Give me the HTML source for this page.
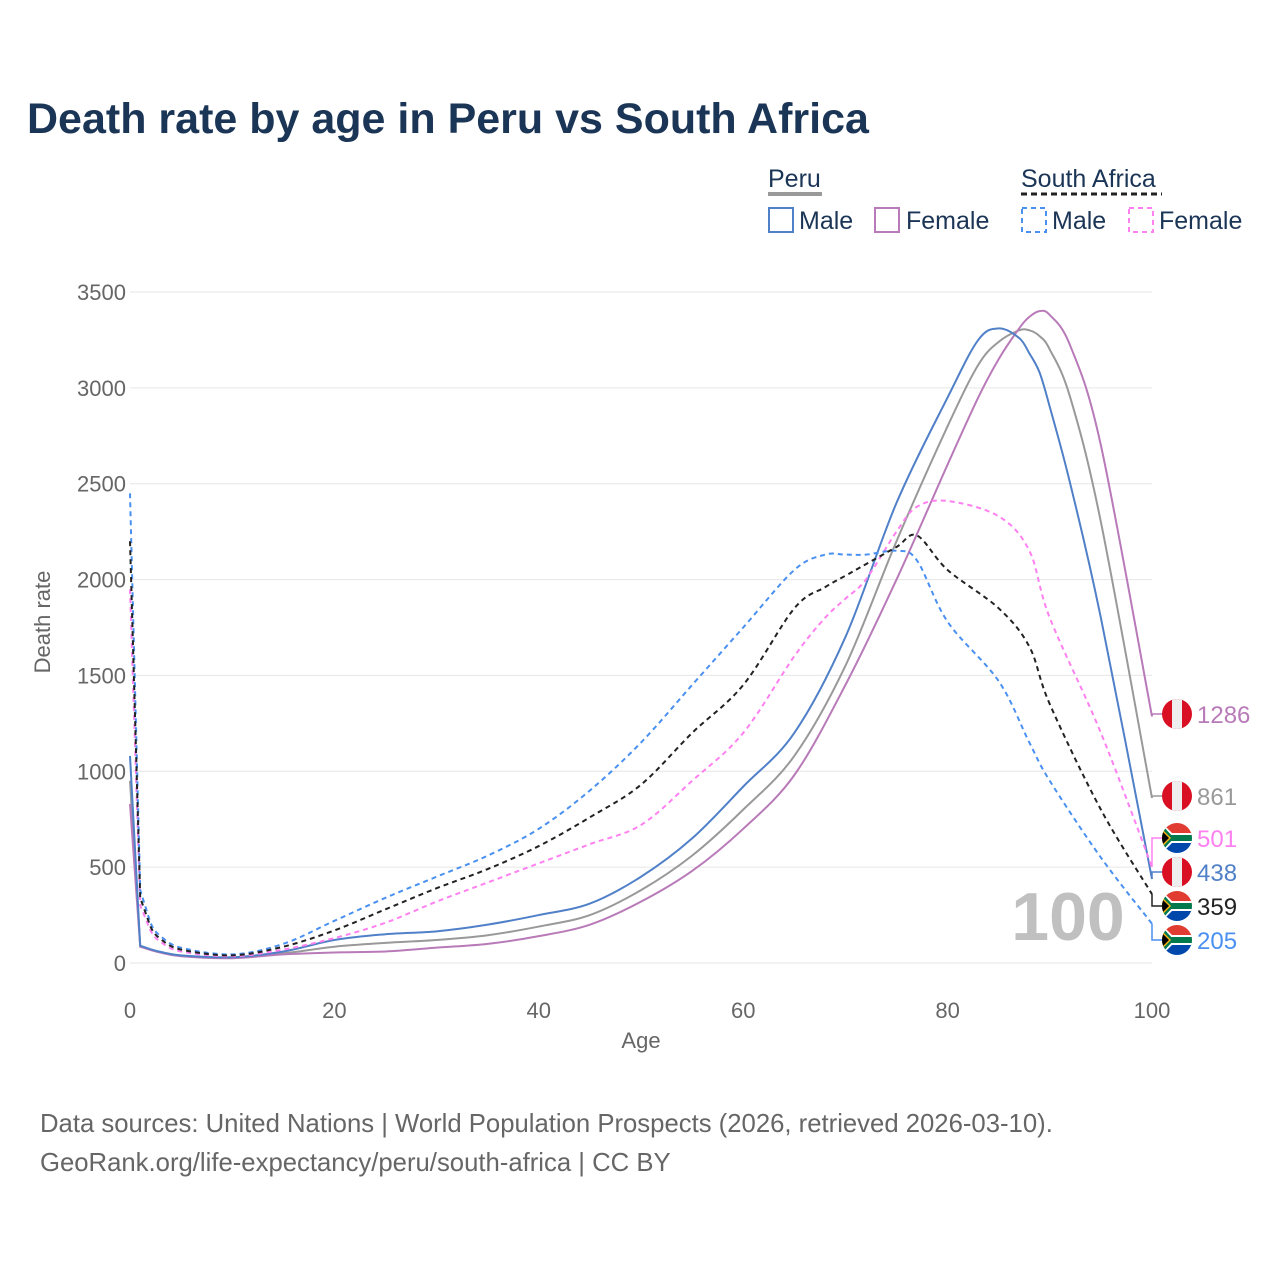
<!DOCTYPE html>
<html><head><meta charset="utf-8"><style>
body{margin:0;background:#fff;font-family:"Liberation Sans",sans-serif}
</style></head><body>
<svg id="c" width="1280" height="1280" xmlns="http://www.w3.org/2000/svg">
<text x="27" y="133" font-size="43" font-weight="bold" fill="#1b3556">Death rate by age in Peru vs South Africa</text>
<g font-size="25" fill="#1b3556">
<text x="768" y="187">Peru</text>
<line x1="768" y1="194" x2="822" y2="194" stroke="#999" stroke-width="4"/>
<rect x="769" y="208" width="24" height="24" fill="none" stroke="#5080c8" stroke-width="2"/>
<text x="799" y="229">Male</text>
<rect x="875" y="208" width="24" height="24" fill="none" stroke="#b87ab8" stroke-width="2"/>
<text x="906" y="229">Female</text>
<text x="1021" y="187">South Africa</text>
<line x1="1021" y1="194" x2="1162" y2="194" stroke="#222" stroke-width="3" stroke-dasharray="6,4"/>
<rect x="1022" y="208" width="24" height="24" fill="none" stroke="#4a90f0" stroke-width="2" stroke-dasharray="5,4"/>
<text x="1052" y="229">Male</text>
<rect x="1129" y="208" width="24" height="24" fill="none" stroke="#ff80f0" stroke-width="2" stroke-dasharray="5,4"/>
<text x="1159" y="229">Female</text>
</g>
<g id="grid"></g>
<text x="1068" y="940" font-size="68" font-weight="bold" fill="#c0c0c0" text-anchor="middle">100</text>
<g id="lines"></g>
<g id="labels"></g>
<text x="641" y="1048" font-size="22" fill="#666" text-anchor="middle">Age</text>
<text transform="translate(50,622) rotate(-90)" font-size="22" fill="#666" text-anchor="middle">Death rate</text>
<text x="40" y="1132" font-size="25.7" fill="#666">Data sources: United Nations | World Population Prospects (2026, retrieved 2026-03-10).</text>
<text x="40" y="1171" font-size="25.7" fill="#666">GeoRank.org/life-expectancy/peru/south-africa | CC BY</text>
</svg>
<script>
const ages=[0,1,2,3,5,10,15,20,25,30,35,40,45,50,55,60,65,70,75,80,83,85,87,88,89,90,92,95,100];
const peruMale=[1080,90,72,58,40,30,60,120,150,165,200,250,310,450,650,920,1200,1700,2400,2950,3250,3310,3260,3180,3080,2900,2500,1800,438];
const peruFemale=[830,85,68,54,35,25,45,55,60,80,100,140,200,320,480,700,980,1450,2000,2600,2950,3150,3310,3370,3400,3380,3220,2700,1286];
const peruTotal=[950,88,70,56,38,28,50,85,105,120,145,190,250,380,560,800,1080,1550,2200,2800,3120,3240,3300,3300,3270,3200,2950,2300,861];
const saAges=[0,1,2,3,5,10,15,20,25,30,35,40,45,50,55,60,65,68,70,72,75,77,80,85,88,90,95,100];
const saMale=[2450,380,210,140,80,45,100,220,340,450,560,700,900,1150,1450,1750,2050,2130,2130,2130,2150,2100,1780,1470,1150,950,550,205];
const saFemale=[1950,300,170,110,60,35,70,130,210,320,420,520,620,720,950,1200,1600,1800,1900,2000,2250,2380,2410,2330,2150,1800,1200,501];
const saTotal=[2200,340,190,125,70,40,85,170,280,390,490,610,760,930,1200,1450,1850,1960,2020,2080,2170,2230,2050,1850,1650,1350,800,359];
const yTicks=[0,500,1000,1500,2000,2500,3000,3500];
const xTicks=[0,20,40,60,80,100];
const NS="http://www.w3.org/2000/svg";
const X=a=>130+a*10.22, Y=v=>963-v*671/3500;
function el(t,at,p){const e=document.createElementNS(NS,t);for(const k in at)e.setAttribute(k,at[k]);p.appendChild(e);return e;}
const grid=document.getElementById('grid');
yTicks.forEach(v=>{
 const l=el('line',{x1:130,x2:1152,y1:Y(v),y2:Y(v),stroke:'#e6e6e6','stroke-width':1},grid);
 
 
 const t=el('text',{x:126,y:Y(v)+8,'font-size':22,fill:'#666','text-anchor':'end'},grid);t.textContent=v;
 
 
});
xTicks.forEach(v=>{
 const t=el('text',{x:X(v),y:1018,'font-size':22,fill:'#666','text-anchor':'middle'},grid);t.textContent=v;
 
 
});
function path(xs,ys){
 const p=xs.map((a,i)=>[X(a),Y(ys[i])]);let d='M'+p[0][0]+','+p[0][1];
 for(let i=0;i<p.length-1;i++){
  const p0=p[Math.max(i-1,0)],p1=p[i],p2=p[i+1],p3=p[Math.min(i+2,p.length-1)];
  const sm=i<2?0:1/6;
  d+=` C${p1[0]+(p2[0]-p0[0])*sm},${p1[1]+(p2[1]-p0[1])*sm} ${p2[0]-(p3[0]-p1[0])*sm},${p2[1]-(p3[1]-p1[1])*sm} ${p2[0]},${p2[1]}`;
 }
 return d;
}
const series=[
 {n:'peru-total',xs:ages,ys:peruTotal,c:'#999',d:'',ly:796,f:'pe',tc:'#999'},
 {n:'peru-female',xs:ages,ys:peruFemale,c:'#b87ab8',d:'',ly:714,f:'pe',tc:'#b87ab8'},
 {n:'peru-male',xs:ages,ys:peruMale,c:'#5080c8',d:'',ly:872,f:'pe',tc:'#5080c8'},
 {n:'sa-female',xs:saAges,ys:saFemale,c:'#ff80f0',d:'5,4',ly:838,f:'za',tc:'#ff80f0'},
 {n:'sa-male',xs:saAges,ys:saMale,c:'#4a90f0',d:'5,4',ly:940,f:'za',tc:'#4a90f0'},
 {n:'sa-total',xs:saAges,ys:saTotal,c:'#222',d:'5,4',ly:906,f:'za',tc:'#222'}
];
const lines=document.getElementById('lines'),labels=document.getElementById('labels');
series.forEach(s=>{
 const p=el('path',{d:path(s.xs,s.ys),fill:'none',stroke:s.c,'stroke-width':2,'stroke-dasharray':s.d},lines);
 
 
 const last=s.ys[s.ys.length-1];
 const con=el('path',{d:`M1152,${Y(last)} V${s.ly} H1164`,fill:'none',stroke:s.c,'stroke-width':1.5},labels);
 
 
 const g=el('g',{},labels);
 
 
 const cx=1177,cy=s.ly,r=15;
 const cid='cl'+s.n;
 const cp=el('clipPath',{id:cid},g);el('circle',{cx,cy,r},cp);
 const fg=el('g',{'clip-path':`url(#${cid})`},g);
 if(s.f==='pe'){
  el('rect',{x:cx-r,y:cy-r,width:2*r,height:2*r,fill:'#d91023'},fg);
  el('rect',{x:cx-r/3,y:cy-r,width:2*r/3,height:2*r,fill:'#eee'},fg);
 }else{
  el('rect',{x:cx-r,y:cy-r,width:2*r,height:r,fill:'#e03c31'},fg);
  el('rect',{x:cx-r,y:cy,width:2*r,height:r,fill:'#0047ab'},fg);
  el('path',{d:`M${cx-r},${cy-r} L${cx},${cy} L${cx-r},${cy+r}Z`,fill:'#fff'},fg);
  el('rect',{x:cx-r,y:cy-5,width:2*r,height:10,fill:'#fff'},fg);
  el('rect',{x:cx-r,y:cy-3,width:2*r,height:6,fill:'#007a4d'},fg);
  el('path',{d:`M${cx-r},${cy-r+2} L${cx-3},${cy} L${cx-r},${cy+r-2}Z`,fill:'#007a4d'},fg);
  el('path',{d:`M${cx-r},${cy-9} L${cx-6},${cy} L${cx-r},${cy+9}Z`,fill:'#ffb612'},fg);
  el('path',{d:`M${cx-r},${cy-7} L${cx-8},${cy} L${cx-r},${cy+7}Z`,fill:'#000'},fg);
 }
 const t=el('text',{x:1197,y:s.ly+9,'font-size':24,fill:s.tc},labels);t.textContent=last;
 
 
});
</script>
</body></html>
